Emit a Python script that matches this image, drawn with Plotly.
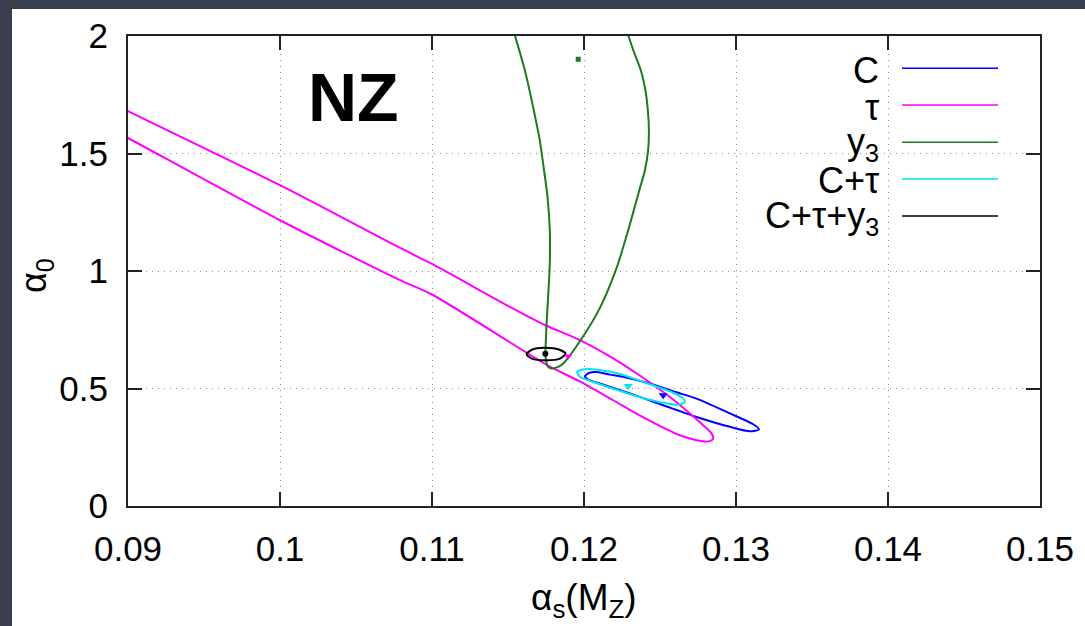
import plotly.graph_objects as go

# ---------------- data ----------------
x_ticks = [0.09, 0.10, 0.11, 0.12, 0.13, 0.14, 0.15]
x_tick_text = ["0.09", "0.1", "0.11", "0.12", "0.13", "0.14", "0.15"]
y_ticks = [0, 0.5, 1, 1.5, 2]
y_tick_text = ["0", "0.5", "1", "1.5", "2"]

# C contour (blue), closed; starts mid upper edge
c_x = [0.12433, 0.12598, 0.12741, 0.12960, 0.13113, 0.13151, 0.13092, 0.12960, 0.12741, 0.12521,
       0.12302, 0.12104, 0.12027, 0.12006, 0.12032, 0.12085, 0.12170, 0.12269, 0.12433]
c_y = [0.521, 0.486, 0.457, 0.394, 0.348, 0.326, 0.318, 0.337, 0.379, 0.429,
       0.479, 0.521, 0.538, 0.552, 0.566, 0.570, 0.559, 0.548, 0.521]

# tau contour (magenta), open to the upper left
tau_x = [0.088, 0.090, 0.100, 0.1079, 0.110, 0.115, 0.1175, 0.11973, 0.12192, 0.12412, 0.12565,
         0.12697, 0.12784, 0.12839, 0.12850, 0.12828, 0.12741, 0.12631, 0.12412, 0.12192, 0.11973,
         0.11770, 0.110, 0.1079, 0.100, 0.090, 0.088]
tau_y = [1.745, 1.680, 1.365, 1.098, 1.030, 0.852, 0.768, 0.706, 0.628, 0.535, 0.464,
         0.394, 0.344, 0.309, 0.287, 0.276, 0.280, 0.301, 0.370, 0.450, 0.530,
         0.595, 0.900, 0.961, 1.216, 1.566, 1.635]

# y3 contour (green), open at the top
y3_x = [0.11523, 0.11545, 0.11611, 0.11665, 0.11709, 0.11731, 0.11760, 0.11775, 0.11775, 0.11764,
        0.11754, 0.11747, 0.11747, 0.11764, 0.11786, 0.11830, 0.11863, 0.11973, 0.12104, 0.12214,
        0.12291, 0.12364, 0.12401, 0.12422, 0.12427, 0.12420, 0.12404, 0.12374, 0.12324, 0.12291, 0.12266]
y3_y = [2.05, 2.003, 1.854, 1.698, 1.557, 1.457, 1.315, 1.174, 1.032, 0.890,
        0.777, 0.663, 0.634, 0.592, 0.585, 0.592, 0.606, 0.701, 0.842, 1.012,
        1.174, 1.344, 1.429, 1.514, 1.599, 1.684, 1.769, 1.854, 1.940, 2.003, 2.05]

# C+tau contour (cyan), closed; starts mid upper edge
ct_x = [0.12214, 0.12420, 0.12587, 0.12653, 0.12664, 0.12618, 0.12420, 0.12203, 0.12039,
        0.11973, 0.11955, 0.11986, 0.12039, 0.12214]
ct_y = [0.566, 0.521, 0.482, 0.457, 0.443, 0.431, 0.454, 0.497, 0.533,
        0.550, 0.571, 0.580, 0.583, 0.566]

# C+tau+y3 contour (black), closed; starts at the top
cty_x = [0.11742, 0.11834, 0.11879, 0.11841, 0.11754, 0.11657, 0.11622, 0.11657, 0.11742]
cty_y = [0.673, 0.666, 0.649, 0.627, 0.620, 0.627, 0.646, 0.665, 0.673]

# best-fit points
best_c = (0.12521, 0.471)
best_tau = (0.11896, 0.637)
best_y3 = (0.11962, 1.901)
best_ct = (0.12291, 0.511)
best_cty = (0.11746, 0.648)

legend_names = ["C", "τ", "y<sub>3</sub>", "C+τ", "C+τ+y<sub>3</sub>"]
colors = ["#0000ff", "#ff00ff", "#1e7a1e", "#00e5ee", "#000000"]

FONT = "Liberation Sans, Arial, Helvetica, sans-serif"

fig = go.Figure()

curves = [(c_x, c_y), (tau_x, tau_y), (y3_x, y3_y), (ct_x, ct_y), (cty_x, cty_y)]
for (xs, ys), name, col in zip(curves, legend_names, colors):
    fig.add_trace(go.Scatter(x=xs, y=ys, mode="lines", name=name,
                             line=dict(color=col, width=2, shape="spline", smoothing=0.7),
                             showlegend=False, hoverinfo="skip"))

pts = [(best_c, colors[0], "triangle-down", 8), (best_tau, colors[1], "triangle-down", 7),
       (best_y3, colors[2], "square", 5), (best_ct, colors[3], "triangle-down", 8),
       (best_cty, colors[4], "circle", 6)]
for (px, py), col, sym, sz in pts:
    fig.add_trace(go.Scatter(x=[px], y=[py], mode="markers", showlegend=False,
                             marker=dict(color=col, symbol=sym, size=sz, line=dict(width=0))))

W, H = 1085, 626
L, R, T, B = 128, 45, 36, 120
PW, PH = W - L - R, H - T - B

def px2paper_x(p):
    return (p - L) / PW

def px2paper_y(p):
    return (H - B - p) / PH

shapes = [
    # white sheet on the dark slide background
    dict(type="rect", xref="paper", yref="paper", layer="below",
         x0=px2paper_x(12), x1=px2paper_x(W + 5), y0=px2paper_y(H + 5), y1=px2paper_y(9),
         fillcolor="white", line=dict(width=0)),
]

annotations = []
leg_line_y = [68.3, 105, 142.3, 179, 216]
for name, col, ly in zip(legend_names, colors, leg_line_y):
    shapes.append(dict(type="line", xref="paper", yref="paper",
                       x0=px2paper_x(902), x1=px2paper_x(998),
                       y0=px2paper_y(ly), y1=px2paper_y(ly),
                       line=dict(color=col, width=1.6)))
    annotations.append(dict(text=name, xref="paper", yref="paper", showarrow=False,
                            x=px2paper_x(881), y=px2paper_y(ly + 2), xanchor="right", yanchor="middle",
                            font=dict(family=FONT, size=36, color="black")))

annotations.append(dict(text="<b>NZ</b>", xref="paper", yref="paper", showarrow=False,
                        x=px2paper_x(353), y=px2paper_y(97), xanchor="center", yanchor="middle",
                        font=dict(family=FONT, size=68, color="black")))
annotations.append(dict(text="α<sub>s</sub>(M<sub>Z</sub>)", xref="paper", yref="paper", showarrow=False,
                        x=px2paper_x(584), y=px2paper_y(600), xanchor="center", yanchor="middle",
                        font=dict(family=FONT, size=37, color="black")))
annotations.append(dict(text="α<sub>0</sub>", xref="paper", yref="paper", showarrow=False,
                        x=px2paper_x(36), y=px2paper_y(276), xanchor="center", yanchor="middle",
                        textangle=-90, font=dict(family=FONT, size=36, color="black")))

axis_common = dict(showline=True, linecolor="#222222", linewidth=2, mirror="ticks",
                   ticks="inside", ticklen=14, tickwidth=1.5, tickcolor="#222222",
                   showgrid=True, gridcolor="#8c8c8c", gridwidth=1, griddash="1px,5px",
                   zeroline=False, tickfont=dict(family=FONT, size=35, color="black"))

fig.update_layout(
    width=W, height=H,
    margin=dict(l=L, r=R, t=T, b=B, pad=0),
    paper_bgcolor="#3b3e4e",
    plot_bgcolor="white",
    shapes=shapes,
    annotations=annotations,
    xaxis=dict(range=[0.09, 0.15], tickvals=x_ticks, ticktext=x_tick_text,
               ticklabelstandoff=11, **axis_common),
    yaxis=dict(range=[0, 2], tickvals=y_ticks, ticktext=y_tick_text,
               ticklabelstandoff=11, **axis_common),
)

fig.write_html("out.html")
